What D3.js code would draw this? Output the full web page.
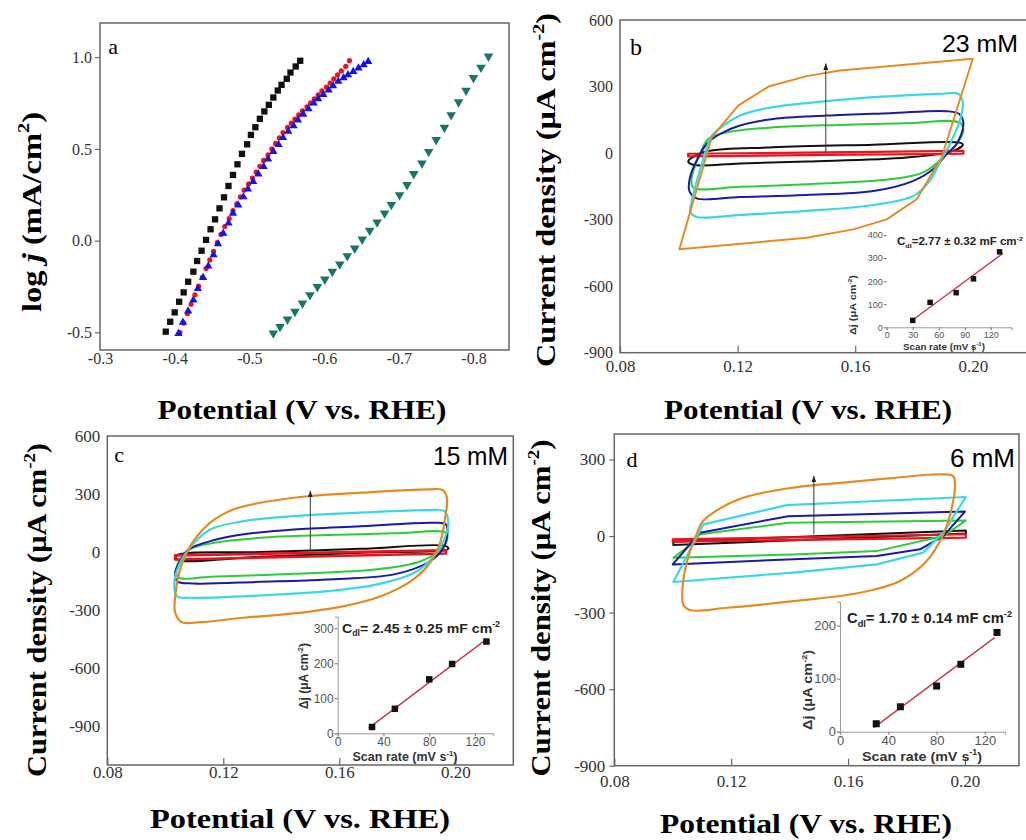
<!DOCTYPE html>
<html>
<head>
<meta charset="utf-8">
<script src="https://cdn.jsdelivr.net/npm/d3@7"></script>
<style>
  body { margin: 0; background: #fff; }
  svg { display: block; }
</style>
</head>
<body>
<div id="chart"></div>
<script>
// ---------- panel a: Tafel plots, [potential V vs RHE, log j]
const tafelBlack = [[-0.388,-0.496],[-0.394,-0.442],[-0.400,-0.391],[-0.406,-0.333],[-0.412,-0.282],[-0.418,-0.224],[-0.425,-0.169],[-0.430,-0.111],[-0.436,-0.055],[-0.442,0.004],[-0.448,0.062],[-0.454,0.116],[-0.460,0.176],[-0.466,0.236],[-0.472,0.298],[-0.478,0.358],[-0.484,0.416],[-0.490,0.473],[-0.497,0.525],[-0.502,0.576],[-0.508,0.618],[-0.514,0.664],[-0.520,0.704],[-0.526,0.740],[-0.532,0.780],[-0.538,0.818],[-0.543,0.849],[-0.550,0.882],[-0.555,0.916],[-0.562,0.949],[-0.568,0.980]];
const tafelRed = [[-0.407,-0.500],[-0.412,-0.449],[-0.417,-0.398],[-0.422,-0.347],[-0.427,-0.295],[-0.432,-0.248],[-0.437,-0.200],[-0.442,-0.152],[-0.447,-0.105],[-0.452,-0.058],[-0.457,-0.011],[-0.462,0.034],[-0.467,0.077],[-0.473,0.120],[-0.478,0.163],[-0.483,0.200],[-0.488,0.238],[-0.493,0.275],[-0.499,0.309],[-0.504,0.341],[-0.509,0.373],[-0.514,0.405],[-0.519,0.437],[-0.525,0.468],[-0.530,0.500],[-0.535,0.530],[-0.540,0.560],[-0.545,0.589],[-0.551,0.617],[-0.556,0.640],[-0.561,0.662],[-0.566,0.685],[-0.571,0.707],[-0.577,0.729],[-0.582,0.751],[-0.587,0.773],[-0.592,0.795],[-0.597,0.816],[-0.603,0.837],[-0.608,0.859],[-0.613,0.881],[-0.618,0.903],[-0.623,0.925],[-0.629,0.950],[-0.634,0.981]];
const tafelBlue = [[-0.405,-0.506],[-0.411,-0.445],[-0.418,-0.384],[-0.425,-0.324],[-0.431,-0.262],[-0.438,-0.201],[-0.445,-0.139],[-0.452,-0.078],[-0.458,-0.017],[-0.465,0.040],[-0.472,0.095],[-0.478,0.149],[-0.485,0.194],[-0.492,0.238],[-0.498,0.281],[-0.505,0.322],[-0.512,0.363],[-0.519,0.404],[-0.525,0.444],[-0.532,0.485],[-0.539,0.523],[-0.545,0.561],[-0.552,0.595],[-0.559,0.626],[-0.565,0.657],[-0.572,0.688],[-0.579,0.718],[-0.586,0.749],[-0.592,0.773],[-0.599,0.796],[-0.606,0.820],[-0.612,0.844],[-0.619,0.868],[-0.626,0.887],[-0.632,0.904],[-0.639,0.921],[-0.646,0.940],[-0.653,0.958],[-0.659,0.976]];
const tafelTeal = [[-0.532,-0.505],[-0.541,-0.469],[-0.551,-0.429],[-0.561,-0.387],[-0.571,-0.342],[-0.581,-0.296],[-0.591,-0.251],[-0.601,-0.211],[-0.611,-0.169],[-0.621,-0.129],[-0.631,-0.084],[-0.641,-0.042],[-0.651,0.007],[-0.661,0.055],[-0.671,0.100],[-0.681,0.149],[-0.690,0.196],[-0.701,0.249],[-0.711,0.304],[-0.720,0.364],[-0.731,0.422],[-0.740,0.484],[-0.750,0.549],[-0.761,0.616],[-0.770,0.685],[-0.780,0.755],[-0.790,0.818],[-0.800,0.887],[-0.810,0.944],[-0.820,1.004]];
const tafelXTicks = [-0.3, -0.4, -0.5, -0.6, -0.7, -0.8];
const tafelYTicks = [-0.5, 0.0, 0.5, 1.0];

// ---------- CV loops, [potential V vs RHE, current density uA cm-2]
const cvXTicks = [0.08, 0.12, 0.16, 0.20];
const cvYTicks = [-900, -600, -300, 0, 300, 600];

// b: 23 mM
const bRed = [[0.1032,-3],[0.1500,3],[0.1968,10],[0.1968,-3],[0.1500,-8],[0.1032,-15]];
const bBlack = [[0.1038,-27],[0.1095,8],[0.1321,26],[0.1662,38],[0.1956,47],[0.1966,38],[0.1934,10],[0.1775,-20],[0.1435,-38],[0.1208,-47],[0.1049,-53],[0.1032,-38]];
const bGreen = [[0.1100,63],[0.1163,93],[0.1321,116],[0.1548,127],[0.1775,134],[0.1956,137],[0.1968,101],[0.1945,41],[0.1905,-12],[0.1832,-87],[0.1718,-118],[0.1435,-140],[0.1208,-152],[0.1049,-155],[0.1044,-110],[0.1072,-5]];
const bBlue = [[0.1095,41],[0.1140,86],[0.1208,124],[0.1321,154],[0.1503,169],[0.1718,180],[0.1911,189],[0.1954,176],[0.1968,131],[0.1945,41],[0.1911,-5],[0.1866,-72],[0.1798,-125],[0.1662,-171],[0.1435,-189],[0.1208,-198],[0.1061,-204],[0.1036,-171],[0.1038,-110],[0.1066,-20]];
const bCyan = [[0.1112,78],[0.1208,169],[0.1321,207],[0.1503,234],[0.1662,252],[0.1888,267],[0.1951,267],[0.1966,229],[0.1956,146],[0.1922,41],[0.1894,-27],[0.1854,-125],[0.1798,-193],[0.1662,-234],[0.1435,-261],[0.1208,-279],[0.1061,-288],[0.1040,-268],[0.1044,-216],[0.1078,-50],[0.1100,41]];
const bOrange = [[0.1002,-434],[0.1112,71],[0.1202,214],[0.1305,300],[0.1435,347],[0.1548,372],[0.2000,425],[0.1894,-20],[0.1809,-208],[0.1707,-299],[0.1594,-344],[0.1435,-382]];
const bArrow = [0.150, 0, 403];

// c: 15 mM
const cRed = [[0.1034,-17],[0.1968,10],[0.1968,-7],[0.1034,-38]];
const cBlack = [[0.1040,-17],[0.1328,0],[0.1674,17],[0.1968,31],[0.1976,17],[0.1674,-3],[0.1328,-24],[0.1040,-38]];
const cGreen = [[0.1085,14],[0.1155,45],[0.1328,74],[0.1559,88],[0.1789,97],[0.1968,100],[0.1973,74],[0.1950,14],[0.1881,-47],[0.1731,-89],[0.1443,-112],[0.1155,-127],[0.1046,-132],[0.1038,-89],[0.1051,-38]];
const cBlue = [[0.1080,14],[0.1155,57],[0.1270,92],[0.1443,117],[0.1674,134],[0.1927,152],[0.1968,143],[0.1973,100],[0.1956,14],[0.1904,-55],[0.1789,-115],[0.1559,-141],[0.1328,-153],[0.1097,-162],[0.1040,-150],[0.1034,-107],[0.1051,-47]];
const cCyan = [[0.1080,14],[0.1155,117],[0.1270,160],[0.1443,186],[0.1674,204],[0.1904,217],[0.1962,212],[0.1976,152],[0.1962,66],[0.1927,-21],[0.1858,-107],[0.1731,-167],[0.1559,-202],[0.1328,-224],[0.1097,-236],[0.1040,-228],[0.1031,-158],[0.1046,-72]];
const cOrange = [[0.1097,57],[0.1155,152],[0.1236,221],[0.1328,255],[0.1501,290],[0.1674,307],[0.1904,324],[0.1956,321],[0.1971,281],[0.1964,169],[0.1944,31],[0.1904,-72],[0.1847,-150],[0.1743,-228],[0.1616,-279],[0.1443,-317],[0.1270,-339],[0.1121,-362],[0.1057,-362],[0.1034,-313],[0.1034,-228],[0.1051,-89],[0.1074,-3]];
const cArrow = [0.150, 5, 315];

// d: 6 mM
const dRed = [[0.1000,-13],[0.2003,7],[0.2003,-6],[0.1000,-22]];
const dBlack = [[0.1002,-22],[0.2003,22],[0.2003,10],[0.1002,-35]];
const dGreen = [[0.1093,7],[0.1395,52],[0.2003,61],[0.1926,0],[0.1698,-59],[0.1413,-72],[0.1002,-85],[0.1048,-45]];
const dBlue = [[0.1093,13],[0.1395,78],[0.2000,96],[0.1926,0],[0.1846,-52],[0.1698,-78],[0.1413,-91],[0.1000,-111]];
const dCyan = [[0.1105,46],[0.1390,121],[0.2003,153],[0.1926,13],[0.1857,-65],[0.1698,-111],[0.1413,-143],[0.1002,-180]];
const dOrange = [[0.1099,52],[0.1139,92],[0.1241,150],[0.1413,190],[0.1641,215],[0.1926,242],[0.1960,235],[0.1966,202],[0.1955,111],[0.1926,7],[0.1869,-98],[0.1778,-176],[0.1641,-222],[0.1413,-255],[0.1185,-281],[0.1059,-290],[0.1036,-267],[0.1036,-176],[0.1059,-59],[0.1082,7]];
const dArrow = [0.1483, 7, 235];

// ---------- insets: delta j vs scan rate
const scanRates = [30, 50, 80, 100, 130];
const bDeltaJ = [30, 108, 150, 210, 327];
const cDeltaJ = [18, 70, 154, 198, 262];
const dDeltaJ = [15, 47, 86, 127, 187];

const COL = {
  red: '#e8141e', black: '#111', green: '#2fcc3a', blue: '#1a1aa6',
  cyan: '#3ad8e4', orange: '#e58b22', tblue: '#1212ee', teal: '#18756b',
  frame: '#666', tick: '#333', fit: '#c23b48',
};
const serif = '"Liberation Serif", "Times New Roman", serif';
const sans = '"Liberation Sans", Arial, sans-serif';

const W = 1026, H = 840;
const svg = d3.select('#chart').append('svg')
  .attr('width', W).attr('height', H)
  .attr('viewBox', `0 0 ${W} ${H}`);
svg.append('rect').attr('width', W).attr('height', H).attr('fill', '#fff');

const defs = svg.append('defs');
defs.append('marker')
  .attr('id', 'arrow').attr('viewBox', '0 0 10 10')
  .attr('refX', 9).attr('refY', 5)
  .attr('markerWidth', 7).attr('markerHeight', 7)
  .attr('orient', 'auto')
  .append('path').attr('d', 'M0,1.5 L10,5 L0,8.5 Z').attr('fill', '#222');

// text with sub/superscript parts
function richText(sel, parts, fs) {
  let shift = 0;
  parts.forEach(p => {
    const t = sel.append('tspan').text(p.t);
    let target = 0;
    if (p.sup) { target = -0.42 * fs; t.style('font-size', (fs * 0.62) + 'px'); }
    if (p.sub) { target = 0.25 * fs; t.style('font-size', (fs * 0.62) + 'px'); }
    if (p.it) t.style('font-style', 'italic');
    if (target !== shift) { t.attr('dy', target - shift); shift = target; }
  });
  return sel;
}

function label(x, y, parts, o) {
  const t = svg.append('text')
    .attr('transform', `translate(${x},${y})` + (o.rot ? ' rotate(-90)' : ''))
    .attr('text-anchor', o.anchor || 'middle')
    .style('font-family', o.font || serif)
    .style('font-weight', o.bold ? 'bold' : 'normal')
    .style('font-size', o.fs + 'px')
    .attr('fill', o.fill || '#000');
  if (o.len) t.attr('textLength', o.len).attr('lengthAdjust', 'spacingAndGlyphs');
  richText(t, typeof parts === 'string' ? [{ t: parts }] : parts, o.fs);
  return t;
}

function frame(x, y) {
  const [x0, x1] = x.range();
  const [yb, yt] = y.range();
  svg.append('rect')
    .attr('x', x0).attr('y', yt).attr('width', x1 - x0).attr('height', yb - yt)
    .attr('fill', 'none').attr('stroke', COL.frame).attr('stroke-width', 1.5);
}

function styleAxis(g, font, fs, fill, lineCol) {
  g.selectAll('.tick text')
    .style('font-family', font).style('font-size', fs + 'px').attr('fill', fill);
  g.selectAll('.tick line').attr('stroke', lineCol).attr('stroke-width', 1.2);
}

function axes(x, y, o) {
  const gx = svg.append('g')
    .attr('transform', `translate(0,${y.range()[0]})`)
    .call(d3.axisBottom(x).tickValues(o.xt).tickFormat(o.xf)
      .tickSize(-o.xTick).tickPadding(o.xPad));
  const gy = svg.append('g')
    .attr('transform', `translate(${x.range()[0]},0)`)
    .call(d3.axisLeft(y).tickValues(o.yt).tickFormat(o.yf)
      .tickSize(o.yTick).tickPadding(o.yPad));
  gx.select('.domain').remove();
  gy.select('.domain').remove();
  styleAxis(gx, serif, o.fs, COL.tick, COL.frame);
  styleAxis(gy, serif, o.yfs || o.fs, COL.tick, COL.frame);
}

// ================= panel a =================
const xA = d3.scaleLinear().domain([-0.3, -0.8475]).range([100, 509]);
const yA = d3.scaleLinear().domain([-0.596, 1.186]).range([350, 23]);
axes(xA, yA, {
  xt: tafelXTicks, xf: d => d.toFixed(1), xTick: 0, xPad: 3,
  yt: tafelYTicks, yf: d => d.toFixed(1), yTick: 5, yPad: 3, fs: 16,
});
frame(xA, yA);

const gA = svg.append('g');
gA.selectAll('.sq').data(tafelBlack).join('path')
  .attr('transform', d => `translate(${xA(d[0])},${yA(d[1])})`)
  .attr('d', d3.symbol(d3.symbolSquare, 40)()).attr('fill', COL.black);
gA.selectAll('.ci').data(tafelRed).join('circle')
  .attr('cx', d => xA(d[0])).attr('cy', d => yA(d[1])).attr('r', 2.6)
  .attr('fill', COL.red);
gA.selectAll('.tu').data(tafelBlue).join('path')
  .attr('transform', d => `translate(${xA(d[0])},${yA(d[1])})`)
  .attr('d', d3.symbol(d3.symbolTriangle, 30)()).attr('fill', COL.tblue);
gA.selectAll('.td').data(tafelTeal).join('path')
  .attr('transform', d => `translate(${xA(d[0])},${yA(d[1])}) rotate(180)`)
  .attr('d', d3.symbol(d3.symbolTriangle, 40)()).attr('fill', COL.teal);

label(113, 54, 'a', { fs: 22 });
label(41, 212, [{ t: 'log ' }, { t: 'j', it: true }, { t: ' (mA/cm' }, { t: '2', sup: true }, { t: ')' }],
  { rot: true, fs: 28, bold: true, len: 200 });
label(302, 419, 'Potential (V vs. RHE)', { fs: 28, bold: true, len: 289 });

// ================= CV panels =================
function cvPanel(x, y, o) {
  axes(x, y, {
    xt: cvXTicks, xf: d => d.toFixed(2), xTick: 7, xPad: o.xPad,
    yt: cvYTicks.filter(v => v <= y.domain()[1]), yf: d => String(d),
    yTick: o.yTick, yPad: o.yPad, fs: o.fs, yfs: o.yfs,
  });
  frame(x, y);
  const g = svg.append('g');
  o.loops.forEach(([data, col, curve, sw]) => {
    g.append('path').datum(data)
      .attr('d', d3.line().x(d => x(d[0])).y(d => y(d[1])).curve(curve))
      .attr('fill', 'none').attr('stroke', col)
      .attr('stroke-width', sw).attr('stroke-linejoin', 'round');
  });
  const [ea, j0, j1] = o.arrow;
  g.append('line')
    .attr('x1', x(ea)).attr('y1', y(j0)).attr('x2', x(ea)).attr('y2', y(j1))
    .attr('stroke', '#333').attr('stroke-width', 1)
    .attr('marker-end', 'url(#arrow)');
}

const smooth = d3.curveCatmullRomClosed.alpha(0.5);
const sharp = d3.curveLinearClosed;

// ---- b
const xB = d3.scaleLinear().domain([0.08, 0.22]).range([620, 1031.6]);
const yB = d3.scaleLinear().domain([-900, 600]).range([352.7, 20]);
cvPanel(xB, yB, {
  xPad: 7, yTick: 0, yPad: 7, fs: 17, yfs: 16, arrow: bArrow,
  loops: [
    [bBlack, COL.black, smooth, 2], [bRed, COL.red, sharp, 2.2],
    [bGreen, COL.green, smooth, 2], [bBlue, COL.blue, smooth, 2],
    [bCyan, COL.cyan, smooth, 2.2], [bOrange, COL.orange, sharp, 2],
  ],
});
label(636, 55, 'b', { fs: 24 });
label(1018, 52, '23 mM', { fs: 23, font: sans, anchor: 'end', len: 76 });
label(555, 190, [{ t: 'Current density (μA cm' }, { t: '-2', sup: true }, { t: ')' }],
  { rot: true, fs: 27, bold: true, len: 354 });
label(808, 419, 'Potential (V vs. RHE)', { fs: 28, bold: true, len: 288 });

// ---- c
const xC = d3.scaleLinear().domain([0.08, 0.22]).range([107.3, 513.3]);
const yC = d3.scaleLinear().domain([-1100, 600]).range([765, 436]);
cvPanel(xC, yC, {
  xPad: 1, yTick: 0, yPad: 7, fs: 17, arrow: cArrow,
  loops: [
    [cBlack, COL.black, smooth, 2], [cRed, COL.red, sharp, 2.6],
    [cGreen, COL.green, smooth, 2], [cBlue, COL.blue, smooth, 2],
    [cCyan, COL.cyan, smooth, 2.2], [cOrange, COL.orange, smooth, 2.2],
  ],
});
label(119, 462, 'c', { fs: 22 });
label(508, 465, '15 mM', { fs: 25, font: sans, anchor: 'end', len: 75 });
label(46, 610, [{ t: 'Current density (μA cm' }, { t: '-2', sup: true }, { t: ')' }],
  { rot: true, fs: 27, bold: true, len: 334 });
label(300, 828, 'Potential (V vs. RHE)', { fs: 28, bold: true, len: 300 });

// ---- d
const xD = d3.scaleLinear().domain([0.08, 0.2185]).range([614.3, 1019]);
const yD = d3.scaleLinear().domain([-900, 400]).range([765.7, 434]);
cvPanel(xD, yD, {
  xPad: 9, yTick: 5, yPad: 4, fs: 17, arrow: dArrow,
  loops: [
    [dBlack, COL.black, sharp, 2], [dRed, COL.red, sharp, 2.2],
    [dGreen, COL.green, sharp, 2], [dBlue, COL.blue, sharp, 2],
    [dCyan, COL.cyan, sharp, 2.2], [dOrange, COL.orange, smooth, 2.2],
  ],
});
label(632, 467, 'd', { fs: 22 });
label(1015, 467, '6 mM', { fs: 25, font: sans, anchor: 'end', len: 65 });
label(550, 608, [{ t: 'Current density (μA cm' }, { t: '-2', sup: true }, { t: ')' }],
  { rot: true, fs: 27, bold: true, len: 337 });
label(806, 833, 'Potential (V vs. RHE)', { fs: 28, bold: true, len: 292 });

// ================= insets =================
function inset(ix, iy, vals, o) {
  const g = svg.append('g');
  const gx = g.append('g').attr('transform', `translate(0,${iy.range()[0]})`)
    .call(d3.axisBottom(ix).tickValues(o.xt).tickSize(3).tickPadding(1));
  const gy = g.append('g').attr('transform', `translate(${ix.range()[0]},0)`)
    .call(d3.axisLeft(iy).tickValues(o.yt).tickSize(3).tickPadding(1));
  [gx, gy].forEach(a => {
    styleAxis(a, sans, o.fs, '#555', '#888');
    a.select('.domain').attr('stroke', '#999');
  });
  if (!o.yLine) gy.select('.domain').remove();

  // least-squares fit through the points
  const mx = d3.mean(scanRates), my = d3.mean(vals);
  const slope = d3.sum(scanRates, (s, i) => (s - mx) * (vals[i] - my)) /
    d3.sum(scanRates, s => (s - mx) ** 2);
  const icpt = my - slope * mx;
  g.append('line')
    .attr('x1', ix(o.fitX[0])).attr('y1', iy(icpt + slope * o.fitX[0]))
    .attr('x2', ix(o.fitX[1])).attr('y2', iy(icpt + slope * o.fitX[1]))
    .attr('stroke', COL.fit).attr('stroke-width', 1.4);
  g.selectAll('rect.pt').data(scanRates).join('rect')
    .attr('x', d => ix(d) - o.ms / 2)
    .attr('y', (d, i) => iy(vals[i]) - o.ms / 2)
    .attr('width', o.ms).attr('height', o.ms).attr('fill', '#111');

  label(o.cdl[0], o.cdl[1],
    [{ t: 'C' }, { t: 'dl', sub: true }, { t: o.cdlText }, { t: '-2', sup: true }],
    { fs: o.cdl[2], font: sans, bold: true, anchor: 'start', len: o.cdl[3], fill: '#222' });
  label(o.sr[0], o.sr[1],
    [{ t: 'Scan rate (mV s' }, { t: '-1', sup: true }, { t: ')' }],
    { fs: o.sr[2], font: sans, bold: true, len: o.sr[3], fill: '#333' });
  label(o.dj[0], o.dj[1],
    [{ t: 'Δj (μA cm' }, { t: '-2', sup: true }, { t: ')' }],
    { fs: o.dj[2], font: sans, bold: true, rot: true, len: o.dj[3], fill: '#333' });
}

inset(
  d3.scaleLinear().domain([0, 144]).range([886.7, 1011.7]),
  d3.scaleLinear().domain([0, 400]).range([327.3, 235]),
  bDeltaJ,
  { xt: [0, 30, 60, 90, 120], yt: [0, 100, 200, 300, 400], fs: 9, yLine: false,
    fitX: [28, 134], ms: 5.5,
    cdl: [897, 245, 10, 126], cdlText: '=2.77 ± 0.32 mF cm',
    sr: [944, 350, 9.5, 82], dj: [856, 305, 9, 60] }
);
inset(
  d3.scaleLinear().domain([0, 136]).range([337.7, 493.3]),
  d3.scaleLinear().domain([0, 333]).range([733.3, 616.7]),
  cDeltaJ,
  { xt: [0, 40, 80, 120], yt: [0, 100, 200, 300], fs: 12, yLine: true,
    fitX: [27, 129], ms: 6.5,
    cdl: [342, 633, 13.5, 158], cdlText: '= 2.45 ± 0.25 mF cm',
    sr: [405, 761, 12.5, 105], dj: [308, 676, 12, 66] }
);
inset(
  d3.scaleLinear().domain([0, 136.6]).range([840, 1005]),
  d3.scaleLinear().domain([0, 245]).range([731.7, 601.7]),
  dDeltaJ,
  { xt: [0, 40, 80, 120], yt: [0, 100, 200], fs: 13, yLine: true,
    fitX: [28, 128], ms: 7,
    cdl: [847, 623, 14, 165], cdlText: '= 1.70 ± 0.14 mF cm',
    sr: [922, 761, 13.5, 120], dj: [812, 690, 13, 80] }
);
</script>
</body>
</html>
